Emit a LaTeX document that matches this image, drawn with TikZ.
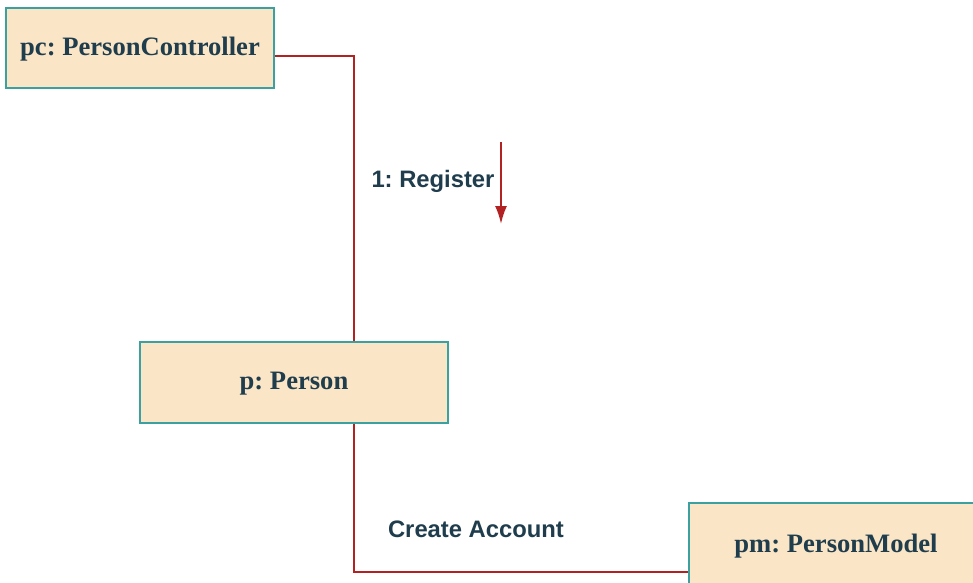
\documentclass[tikz,border=0pt]{standalone}
\usepackage{fontspec}
\setmainfont{Liberation Serif}
\setsansfont{Liberation Sans}
\usetikzlibrary{arrows.meta,positioning,calc}
\definecolor{boxfill}{RGB}{250,229,199}
\definecolor{boxline}{RGB}{58,160,160}
\definecolor{linkred}{RGB}{178,34,34}
\definecolor{textdark}{RGB}{31,61,77}
\tikzset{
    obj/.style={draw=boxline, fill=boxfill, line width=1.5pt, text=textdark,
        font=\fontsize{26.6}{30}\selectfont\bfseries, inner sep=0pt,
        text height=17pt, text depth=3pt},
    link/.style={draw=linkred, line width=2.6pt},
    msg/.style={text=textdark, font=\sffamily\bfseries\fontsize{23.8}{28}\selectfont, inner sep=0pt}
}
\frenchspacing
\begin{document}
\frenchspacing
\begin{tikzpicture}[x=1pt, y=-1pt, >={Latex[length=18pt,width=12pt]}]
    \useasboundingbox (0,0) rectangle (973,582);
    \node[obj, minimum width=268pt, minimum height=80pt] (pc) at (140,48) {pc: PersonController};
    \node[obj, minimum width=308pt, minimum height=81pt] (p) at (294,382.5) {p: Person};
    \node[obj, minimum width=294pt, minimum height=84pt] (pm) at (836,545) {pm: PersonModel};

    \draw[link] ([yshift=-8pt]pc.east) -| ([xshift=60pt]p.north);
    \draw[link] ([xshift=60pt]p.south) |- ([yshift=-27pt]pm.west);

    \node[msg] (reg) at (433,181) {1: Register};
    \node[msg] (create) at (476,529) {Create Account};

    \coordinate (msgtop) at (501,142);
    \coordinate (msgend) at (501,224);
    \draw[->, linkred, line width=2pt] (msgtop) -- (msgend);
\end{tikzpicture}
\end{document}
